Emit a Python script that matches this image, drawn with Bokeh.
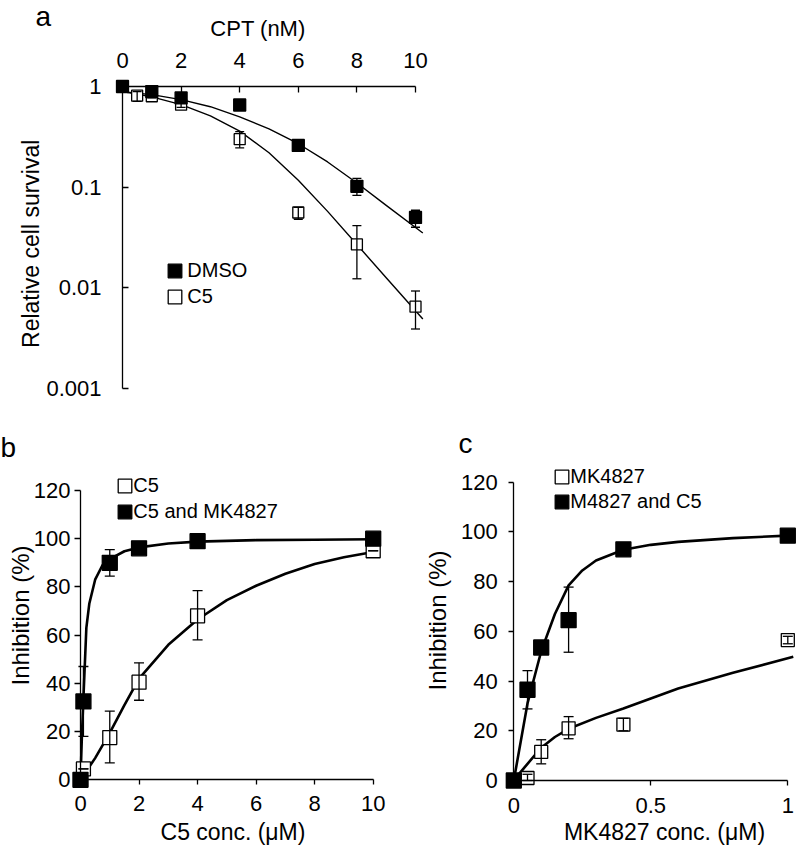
import math
from bokeh.plotting import figure
from bokeh.models import (Range1d, FixedTicker, ColumnDataSource, Whisker, TeeHead,
                          Legend, LegendItem, Label)
from bokeh.layouts import column, row
from bokeh.embed import file_html
from bokeh.resources import INLINE

FONT = "Liberation Sans"

# ---------------- data: panel a (CPT survival, log scale) ----------------
a_ticks_x = [0, 2, 4, 6, 8, 10]
a_ticks_y = [0.001, 0.01, 0.1, 1]
a_dmso_x = [0, 1, 2, 4, 6, 8, 10]
a_dmso_y = [1.0, 0.89, 0.77, 0.655, 0.26, 0.102, 0.050]
a_dmso_lo = [1.0, 0.87, 0.75, 0.64, 0.25, 0.083, 0.040]
a_dmso_hi = [1.0, 0.91, 0.79, 0.67, 0.27, 0.122, 0.059]
a_c5_x = [0, 0.5, 1, 2, 4, 6, 8, 10]
a_c5_y = [1.0, 0.81, 0.80, 0.66, 0.30, 0.056, 0.027, 0.0065]
a_c5_lo = [1.0, 0.71, 0.77, 0.62, 0.246, 0.048, 0.0123, 0.0039]
a_c5_hi = [1.0, 0.89, 0.84, 0.70, 0.357, 0.063, 0.0414, 0.0093]
a_fit_x = [0, 1, 2, 3, 4, 5, 6, 7, 8, 9, 10.25]
a_fit_dmso = [0.89, 0.83, 0.74, 0.63, 0.50, 0.38, 0.27, 0.178, 0.110, 0.066, 0.035]
a_fit_c5 = [0.89, 0.79, 0.66, 0.51, 0.36, 0.22, 0.117, 0.0575, 0.0269, 0.0126, 0.0049]

# ---------------- data: panel b (C5 conc.) ----------------
b_ticks_x = [0, 2, 4, 6, 8, 10]
b_ticks_y = [0, 20, 40, 60, 80, 100, 120]
b_x = [0, 0.1, 1, 2, 4, 10]
b_c5_y = [0, 4.5, 17.5, 40.5, 68, 95]
b_c5_lo = [0, 4.5, 7, 33, 58, 95]
b_c5_hi = [0, 4.5, 28.5, 48.5, 78.5, 95]
b_combo_y = [0, 32.5, 90, 96, 99, 100]
b_combo_lo = [0, 18, 84.5, 96, 99, 100]
b_combo_hi = [0, 47, 95.5, 96, 99, 100]
b_fit_c5_x = [0, 0.5, 1, 1.5, 2, 3, 4, 5, 6, 7, 8, 9, 10]
b_fit_c5_y = [0, 9, 19.5, 31, 42, 56, 66.5, 74.5, 80.5, 85.5, 89.5, 92.3, 94.5]
b_fit_combo_x = [0, 0.05, 0.1, 0.2, 0.3, 0.5, 0.75, 1, 1.5, 2, 3, 4, 6, 8, 10]
b_fit_combo_y = [0, 19, 34, 63, 73, 83, 89, 91.5, 94.8, 96.4, 98.0, 98.8, 99.4, 99.6, 99.8]

# ---------------- data: panel c (MK4827 conc.) ----------------
c_ticks_x = [0, 0.5, 1]
c_ticks_y = [0, 20, 40, 60, 80, 100, 120]
c_x = [0, 0.05, 0.1, 0.2, 0.4, 1]
c_mk_y = [0, 1, 11.5, 21, 22.5, 56.5]
c_mk_lo = [0, 0, 6.7, 16.8, 20, 55]
c_mk_hi = [0, 2.5, 16.4, 25.7, 25, 58]
c_combo_y = [0, 36.5, 53.5, 64.5, 93, 98.5]
c_combo_lo = [0, 28.8, 53.5, 51.6, 91, 98.5]
c_combo_hi = [0, 44.2, 53.5, 77.8, 95, 98.5]
c_fit_mk_x = [0, 0.02, 0.05, 0.1, 0.15, 0.2, 0.3, 0.4, 0.5, 0.6, 0.8, 1.02]
c_fit_mk_y = [0, 2.8, 6.7, 13.2, 17.5, 20.8, 25.2, 29, 33, 37, 43.3, 49.8]
c_fit_combo_x = [0, 0.05, 0.1, 0.15, 0.2, 0.25, 0.3, 0.4, 0.5, 0.6, 0.8, 1.0]
c_fit_combo_y = [0, 31, 52, 67, 78.5, 84.5, 88.5, 92.8, 94.8, 96, 97.5, 98.5]

# ---------------- layout (pixel geometry) ----------------
W_A, H_A = 798, 420
W_B, H_B = 400, 427
W_C, H_C = 398, 427
TOP_B = H_A  # page y where the lower row starts


def span(v0, p0, v1, p1, size, flip=False):
    """Range whose value v0 sits at pixel p0 and v1 at pixel p1 (pixels from left/top)."""
    f = lambda px: v0 + (px - p0) * (v1 - v0) / (p1 - p0)
    return (f(size), f(0)) if flip else (f(0), f(size))


def base_fig(w, h, xr, yr, y_log=False, x_above=False):
    p = figure(width=w, height=h, x_range=Range1d(*xr), y_range=Range1d(*yr),
               y_axis_type="log" if y_log else "linear",
               x_axis_location="above" if x_above else "below",
               min_border=0, min_border_left=0, min_border_right=0,
               min_border_top=0, min_border_bottom=0,
               output_backend="svg", toolbar_location=None)
    p.grid.visible = False
    p.outline_line_color = None
    p.background_fill_color = "white"
    p.border_fill_color = "white"
    return p


def style_axis(ax, ticks, bounds, loc, tin, tout, standoff, fsize, overrides=None, lw=1.3):
    ax.ticker = FixedTicker(ticks=ticks)
    ax.bounds = bounds
    ax.fixed_location = loc
    ax.major_tick_in = tin
    ax.major_tick_out = tout
    ax.minor_tick_line_color = None
    ax.major_label_standoff = standoff
    ax.major_label_text_font = FONT
    ax.major_label_text_font_size = fsize
    ax.major_label_text_color = "black"
    ax.axis_line_color = "black"
    ax.axis_line_width = lw
    ax.major_tick_line_color = "black"
    ax.major_tick_line_width = lw
    if overrides:
        ax.major_label_overrides = overrides


def add_err(p, src, head, lw):
    w = Whisker(source=src, base="x", upper="hi", lower="lo", dimension="height",
                line_color="black", line_width=lw, level="overlay",
                upper_head=TeeHead(size=head, line_color="black", line_width=lw),
                lower_head=TeeHead(size=head, line_color="black", line_width=lw))
    p.add_layout(w)


def series(p, x, y, lo, hi, filled, size, head, lw):
    src = ColumnDataSource(dict(x=x, y=y, lo=lo, hi=hi))
    p.scatter("x", "y", source=src, marker="square", size=size,
              fill_color="black" if filled else "white",
              line_color="black", line_width=lw)
    add_err(p, src, head, lw)
    leg = p.rect("x", "y", source=src, width=13, height=13,
                 width_units="screen", height_units="screen",
                 fill_color="black" if filled else "white",
                 line_color="black", line_width=1.3)
    leg.visible = False
    return leg


def add_legend(p, items, loc, standoff, spacing):
    lg = Legend(items=[LegendItem(label=t, renderers=[r]) for t, r in items],
                location=loc, orientation="vertical",
                border_line_color=None, background_fill_alpha=0,
                padding=0, margin=0, spacing=spacing,
                glyph_width=17, glyph_height=17, label_height=23,
                label_standoff=standoff,
                label_text_font=FONT, label_text_font_size="20px",
                label_text_color="black")
    p.add_layout(lg)


def text(p, s, x, baseline, size_px, angle=0.0, align="center"):
    # baseline: distance (px) of the text baseline from the figure's bottom (or left for
    # rotated text); anchor placed at the middle of the line box
    mid = baseline + 0.3465 * size_px
    p.add_layout(Label(x=(mid if angle else x), y=(x if angle else mid),
                       x_units="screen", y_units="screen", text=s,
                       text_font=FONT, text_font_size=f"{size_px}px", text_color="black",
                       angle=angle, text_align=align, text_baseline="middle"))


# ================= panel a =================
xa = span(0, 122, 10, 415, W_A)
la = span(0, 86, -3, 388, H_A, flip=True)
pa = base_fig(W_A, H_A, xa, (10 ** la[0], 10 ** la[1]), y_log=True, x_above=True)
style_axis(pa.xaxis[0], a_ticks_x, (0, 10), 1, 6, 0, 19, "22px")
style_axis(pa.yaxis[0], a_ticks_y, (0.001, 1), 0, 6, 0, 21, "22px",
           overrides={0.001: "0.001", 0.01: "0.01", 0.1: "0.1", 1: "1"})
pa.line(a_fit_x, a_fit_dmso, line_color="black", line_width=1.4)
pa.line(a_fit_x, a_fit_c5, line_color="black", line_width=1.4)
leg_a_c5 = series(pa, a_c5_x, a_c5_y, a_c5_lo, a_c5_hi, False, 11, 9, 1.3)
leg_a_dmso = series(pa, a_dmso_x, a_dmso_y, a_dmso_lo, a_dmso_hi, True, 12, 9, 1.3)
add_legend(pa, [("DMSO", leg_a_dmso), ("C5", leg_a_c5)], (166.3, H_A - 307.5), 4, 3)
text(pa, "CPT (nM)", 257.5, H_A - 36, 22)
# rotated: "baseline" given as distance from the left edge, x as the vertical centre
p_rot = pa
p_rot.add_layout(Label(x=38.5 - 0.3465 * 23, y=H_A - 243.3, x_units="screen", y_units="screen",
                       text="Relative cell survival", text_font=FONT, text_font_size="23px",
                       text_color="black", angle=math.pi / 2, text_align="center",
                       text_baseline="middle"))
text(pa, "a", 35, H_A - 25.5, 28, align="left")

# ================= panel b =================
xb = span(0, 80, 10, 372.7, W_B)
yb = span(0, 779.3 - TOP_B, 120, 490 - TOP_B, H_B, flip=True)
pb = base_fig(W_B, H_B, xb, yb)
style_axis(pb.xaxis[0], b_ticks_x, (0, 10), 0, 0, 5, 11, "22px")
style_axis(pb.yaxis[0], b_ticks_y, (0, 120), 0, 0, 6, 4, "22px")
pb.line(b_fit_c5_x, b_fit_c5_y, line_color="black", line_width=2.6)
pb.line(b_fit_combo_x, b_fit_combo_y, line_color="black", line_width=2.6)
leg_b_c5 = series(pb, b_x, b_c5_y, b_c5_lo, b_c5_hi, False, 14, 10, 1.3)
leg_b_combo = series(pb, b_x, b_combo_y, b_combo_lo, b_combo_hi, True, 15, 10, 1.3)
add_legend(pb, [("C5", leg_b_c5), ("C5 and MK4827", leg_b_combo)],
           (116.3, H_B - (523.2 - TOP_B)), 0, 3)
text(pb, "C5 conc. (\u03bcM)", 232.5, H_B - (839.5 - TOP_B), 23)
pb.add_layout(Label(x=28.5 - 0.3465 * 24, y=H_B - (615 - TOP_B), x_units="screen", y_units="screen",
                    text="Inhibition (%)", text_font=FONT, text_font_size="24px",
                    text_color="black", angle=math.pi / 2, text_align="center",
                    text_baseline="middle"))
text(pb, "b", 0, H_B - (457 - TOP_B), 28, align="left")

# ================= panel c =================
X0C = 400  # page x where panel c starts
xc = span(0, 513.3 - X0C, 1, 787.3 - X0C, W_C)
yc = span(0, 780 - TOP_B, 120, 481.7 - TOP_B, H_C, flip=True)
pc = base_fig(W_C, H_C, xc, yc)
style_axis(pc.xaxis[0], c_ticks_x, (0, 1), 0, 0, 5, 12, "22px",
           overrides={0: "0", 0.5: "0.5", 1: "1"})
style_axis(pc.yaxis[0], c_ticks_y, (0, 120), 0, 0, 5, 11, "22px")
pc.line(c_fit_mk_x, c_fit_mk_y, line_color="black", line_width=2.6)
pc.line(c_fit_combo_x, c_fit_combo_y, line_color="black", line_width=2.6)
leg_c_mk = series(pc, c_x, c_mk_y, c_mk_lo, c_mk_hi, False, 13, 10, 1.3)
leg_c_combo = series(pc, c_x, c_combo_y, c_combo_lo, c_combo_hi, True, 15, 10, 1.3)
add_legend(pc, [("MK4827", leg_c_mk), ("M4827 and C5", leg_c_combo)],
           (553.3 - X0C, H_C - (512.5 - TOP_B)), 0, 2)
text(pc, "MK4827 conc. (\u03bcM)", 664 - X0C, H_C - (839.5 - TOP_B), 23)
pc.add_layout(Label(x=445.2 - X0C - 0.3465 * 24, y=H_C - (620 - TOP_B), x_units="screen",
                    y_units="screen", text="Inhibition (%)", text_font=FONT,
                    text_font_size="24px", text_color="black", angle=math.pi / 2,
                    text_align="center", text_baseline="middle"))
text(pc, "c", 458 - X0C, H_C - (453 - TOP_B), 28, align="left")

layout = column(pa, row(pb, pc))
open("out.html", "w").write(file_html(layout, INLINE))
